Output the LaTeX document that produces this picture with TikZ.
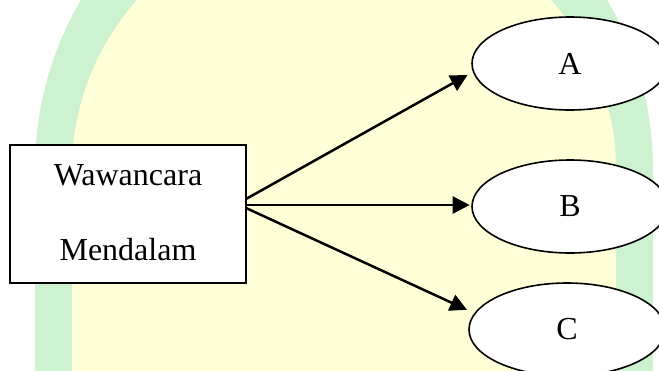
\documentclass[tikz,border=0pt]{standalone}
\usepackage{fontspec}
\setmainfont{Liberation Serif}
\usetikzlibrary{arrows.meta,shapes.geometric}
\definecolor{wmgreen}{RGB}{205,242,207}
\definecolor{wmyellow}{RGB}{255,255,215}
\tikzset{
  label font/.style={font=\fontsize{32}{38}\selectfont},
  sourcebox/.style={draw=black,line width=1.6pt,fill=white,minimum width=236pt,minimum height=138pt,inner sep=0pt},
  target/.style={ellipse,draw=black,line width=1.6pt,fill=white,minimum width=196pt,minimum height=93pt,inner sep=0pt,label font},
  link/.style={line width=2.5pt,-{Triangle[length=17pt,width=17pt]}}
}
\begin{document}
\begin{tikzpicture}[x=1pt,y=-1pt]
  \useasboundingbox (0,0) rectangle (659,370);
  \clip (0,0) rectangle (659,370);
  % page background with the faint arch-shaped watermark
  \fill[white] (0,0) rectangle (659,370);
  \fill[wmgreen] (35,380) -- (35,170) arc[start angle=180,end angle=0,x radius=309,y radius=-324] -- (653,380) -- cycle;
  \fill[wmyellow] (72,380) -- (72,170) arc[start angle=180,end angle=0,x radius=272,y radius=-262] -- (616,380) -- cycle;

  % source box
  \node[sourcebox] (src) at (128,214) {};
  \node[label font,anchor=base] (l1) at (128,185) {Wawancara};
  \node[label font,anchor=base] (l2) at (128,260) {Mendalam};

  % targets
  \node[target] (A) at (570,63.5) {A};
  \node[target] (B) at (570,206.5) {B};
  \node[target] (C) at (567,329.5) {C};

  % start points on the right side of the box
  \coordinate (s1) at (246,199);
  \coordinate (s2) at (246,205);
  \coordinate (s3) at (246,208);

  \draw[link,shorten >=6pt] (s1) -- (A.185);
  \draw[link,shorten >=1.5pt] (s2) -- (B.west |- s2);
  \draw[link,shorten >=8pt] (s3) -- (C.170);
\end{tikzpicture}
\end{document}
